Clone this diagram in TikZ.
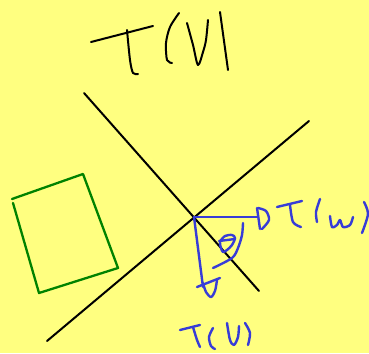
\documentclass[tikz,border=0pt]{standalone}
\usepackage{tikz}
\definecolor{bgyellow}{RGB}{255,255,128}
\definecolor{penblue}{RGB}{55,60,215}
\definecolor{pengreen}{RGB}{0,130,0}
\tikzset{
  ink/.style={line width=2pt, line cap=round, line join=round},
  blackink/.style={ink, black},
  blueink/.style={ink, penblue, line width=2.4pt},
  greenink/.style={ink, pengreen, line width=2.3pt},
}
\begin{document}
\begin{tikzpicture}[x=1pt,y=-1pt]
\fill[bgyellow] (0,0) rectangle (369,353);
\useasboundingbox (0,0) rectangle (369,353);
% title T(V|
\draw[blackink] (91,42) -- (153,26);
\draw[blackink] plot[smooth] coordinates {(127,30) (130,60) (133,73) (138,74)};
\draw[blackink] plot[smooth] coordinates {(179,13) (170,27) (166,43) (167,60) (172,63)};
\draw[blackink] plot[smooth] coordinates {(187,23) (193,45) (198,65) (203,52) (206,40) (208,20)};
\draw[blackink] (220,12) -- (228,70);
% axes
\coordinate (a1) at (84,93);
\coordinate (a2) at (259,291);
\coordinate (b1) at (47,341);
\coordinate (b2) at (309,121);
\draw[blackink] (a1) -- (a2);
\draw[blackink] (b1) -- (b2);
% green quadrilateral
\draw[greenink] (12,199) -- (83,174) -- (118,268) -- (39,293) -- (13,203);
% blue vectors
\coordinate (o) at (194,217);
\coordinate (w) at (257,217);
\coordinate (v) at (203,287);
\draw[blueink] (o) -- (w);
\draw[blueink] (o) -- (v);
% arrowheads drawn as D shapes
\draw[blueink] (257,208) -- (260,229);
\draw[blueink] plot[smooth] coordinates {(258,208) (266,211) (269,220) (262,229)};
\draw[blueink] (197,287) -- (220,278);
\draw[blueink] plot[smooth] coordinates {(203,283) (206,292) (211,297) (215,291) (217,280)};
% theta
\draw[blueink] plot[smooth cycle] coordinates {(220,242) (225,236) (232,235) (235,238) (232,245) (227,250) (223,252) (221,248)};
\draw[blueink] (219,241) -- (235,239);
% angle arc
\draw[blueink] plot[smooth] coordinates {(243,223) (242,235) (238,248) (232,258) (213,268)};
% T(w)
\draw[blueink] (277,207) -- (302,201);
\draw[blueink] plot[smooth] coordinates {(290,205) (293,222) (301,227)};
\draw[blueink] plot[smooth] coordinates {(320,199) (316,212) (317,222)};
\draw[blueink] plot[smooth] coordinates {(330,216) (332,227) (337,225) (340,220) (343,227) (350,225) (353,217)};
\draw[blueink] plot[smooth] coordinates {(364,202) (368,214) (362,233)};
% T(V)
\draw[blueink] (180,330) -- (200,325);
\draw[blueink] plot[smooth] coordinates {(193,327) (197,340) (200,347)};
\draw[blueink] plot[smooth] coordinates {(213,328) (209,337) (211,346) (215,349)};
\draw[blueink] plot[smooth] coordinates {(227,323) (230,340) (234,345) (238,337) (239,326)};
\draw[blueink] plot[smooth] coordinates {(245,323) (250,333) (248,345)};
\end{tikzpicture}
\end{document}
